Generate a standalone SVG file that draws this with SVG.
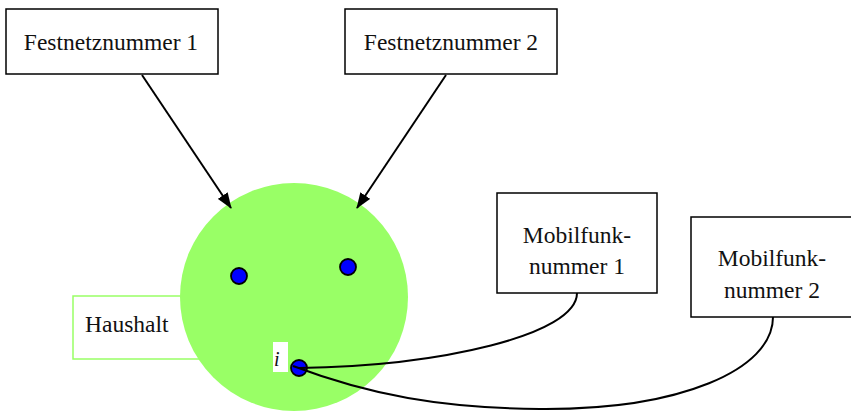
<svg xmlns="http://www.w3.org/2000/svg" width="851" height="411" viewBox="0 0 851 411">
  <style>
    .box { fill: #ffffff; stroke: #000000; stroke-width: 1.5; }
    .lbl { font-family: 'Liberation Serif', serif; font-size: 23.5px; fill: #111111; text-anchor: middle; }
    .edge { fill: none; stroke: #000000; stroke-width: 2; }
    .dot { fill: #0000ff; stroke: #000000; stroke-width: 1.8; }
  </style>
  <defs>
    <marker id="arrow" viewBox="0 0 16 12" refX="15" refY="6" markerWidth="16" markerHeight="12" markerUnits="userSpaceOnUse" orient="auto">
      <path d="M0,0 L16,6 L0,12 Z" fill="#000000"/>
    </marker>
  </defs>
  <g id="haushalt">
    <rect x="73" y="296" width="140" height="63" fill="#ffffff" stroke="#99ff66" stroke-width="1.5"/>
    <text class="lbl" x="85" y="332" font-family="Liberation Serif" style="text-anchor:start">Haushalt</text>
    <circle cx="294" cy="297" r="114" fill="#99ff66"/>
    <circle class="dot" cx="239" cy="276" r="8"/>
    <circle class="dot" cx="348" cy="267" r="8"/>
    <rect x="273" y="342" width="15" height="30" fill="#ffffff"/>
    <text x="274" y="366" font-family="Liberation Serif" font-size="20" font-style="italic" fill="#111111">i</text>
    <circle class="dot" cx="299" cy="368" r="8"/>
  </g>
  <g id="festnetz1">
    <rect class="box" x="6" y="9" width="212" height="65"/>
    <text class="lbl" x="111" y="49.5" font-family="Liberation Serif">Festnetznummer 1</text>
  </g>
  <g id="festnetz2">
    <rect class="box" x="345" y="9" width="212" height="65"/>
    <text class="lbl" x="451" y="49.5" font-family="Liberation Serif">Festnetznummer 2</text>
  </g>
  <g id="mobil1">
    <rect class="box" x="497" y="193" width="160" height="100"/>
    <text class="lbl" x="577" y="243" font-family="Liberation Serif">Mobilfunk-</text>
    <text class="lbl" x="577" y="274" font-family="Liberation Serif">nummer 1</text>
  </g>
  <g id="mobil2">
    <rect class="box" x="691" y="217" width="162" height="100"/>
    <text class="lbl" x="772" y="266" font-family="Liberation Serif">Mobilfunk-</text>
    <text class="lbl" x="772" y="298" font-family="Liberation Serif">nummer 2</text>
  </g>
  <g id="connectors">
    <line class="edge" x1="142" y1="75" x2="231" y2="208" marker-end="url(#arrow)"/>
    <line class="edge" x1="446" y1="75" x2="357" y2="208" marker-end="url(#arrow)"/>
    <path class="edge" d="M299,368 C440,366 577,335 577,293"/>
    <path class="edge" d="M293,366 C370,395 440,408 540,409 C680,410 773,370 773,317"/>
  </g>
</svg>
